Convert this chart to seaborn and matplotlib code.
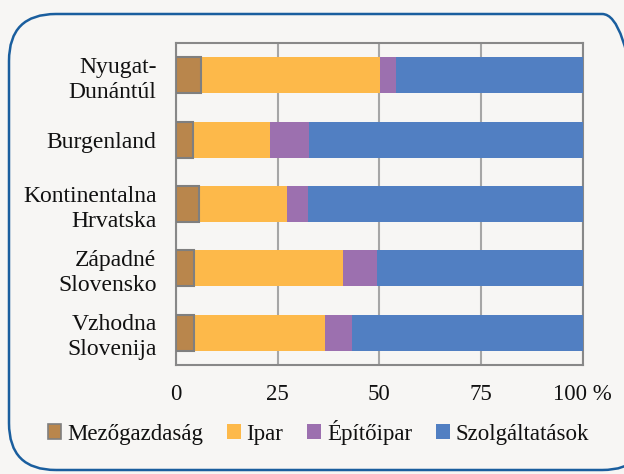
import matplotlib
matplotlib.use("Agg")
import matplotlib.pyplot as plt
from matplotlib.patches import FancyBboxPatch, Patch
import seaborn as sns
import pandas as pd
import numpy as np

regions = ["Nyugat-\nDunántúl", "Burgenland", "Kontinentalna\nHrvatska",
           "Západné\nSlovensko", "Vzhodna\nSlovenija"]
sectors = ["Mezőgazdaság", "Ipar", "Építőipar", "Szolgáltatások"]
mezogazdasag = [6.2, 4.3, 5.7, 4.4, 4.4]
ipar = [43.9, 18.9, 21.5, 36.6, 32.3]
epitoipar = [4.1, 9.5, 5.2, 8.4, 6.6]
szolgaltatasok = [45.8, 67.3, 67.6, 50.6, 56.7]
xticks = [0, 25, 50, 75, 100]
xticklabels = ["0", "25", "50", "75", "100 %"]

colors = ["#B9864C", "#FDB94A", "#9C70AF", "#517FC2"]
bg = "#F7F6F4"

df = pd.DataFrame({"region": regions, "Mezőgazdaság": mezogazdasag,
                   "Ipar": ipar, "Építőipar": epitoipar,
                   "Szolgáltatások": szolgaltatasok})
# cumulative sums so the bars can be layered to look stacked
cum = df[sectors].cumsum(axis=1)

sns.set_style("white")
plt.rcParams["font.family"] = ["Liberation Serif", "DejaVu Serif"]
plt.rcParams["text.color"] = "#111111"
plt.rcParams["xtick.color"] = "#111111"
plt.rcParams["ytick.color"] = "#111111"

fig = plt.figure(figsize=(6.24, 4.74), dpi=100, facecolor=bg)
ax = fig.add_axes([0.282, 0.2306, 0.652, 0.678])
ax.set_facecolor(bg)

for i in reversed(range(len(sectors))):
    s = sectors[i]
    plot_df = pd.DataFrame({"region": regions, "value": cum[s]})
    edge = "#7F7F7F" if i == 0 else "none"
    lw = 1.5 if i == 0 else 0
    sns.barplot(data=plot_df, y="region", x="value", orient="h", color=colors[i],
                width=0.56, edgecolor=edge, linewidth=lw, saturation=1, ax=ax, zorder=3)

ax.set_xlim(0, 100)
ax.set_ylim(4.5, -0.5)
ax.set_xticks(xticks)
ax.set_xticklabels(xticklabels, fontsize=16.5)
ax.set_yticks(np.arange(-0.5, 5, 1.0), minor=True)
ax.set_yticks(range(len(regions)))
ax.set_yticklabels(regions, fontsize=17, linespacing=1.25)
ax.tick_params(axis="y", which="major", length=0, pad=14)
ax.tick_params(axis="y", which="minor", length=6, width=1.3, color="#888888")
ax.tick_params(axis="x", which="major", length=7, width=1.3, color="#888888", pad=7)
ax.set_xlabel("")
ax.set_ylabel("")
ax.grid(axis="x", color="#A6A6A6", linewidth=1.5, zorder=0)
ax.set_axisbelow(True)
for sp in ax.spines.values():
    sp.set_visible(True)
    sp.set_color("#888888")
    sp.set_linewidth(1.5)

handles = [Patch(facecolor=colors[0], edgecolor="#7F7F7F", linewidth=1.2)] + \
          [Patch(facecolor=c, edgecolor="none") for c in colors[1:]]
fig.legend(handles, sectors, loc="center", bbox_to_anchor=(0.51, 0.088), ncol=4,
           frameon=False, fontsize=16.5, handlelength=0.6, handleheight=0.6,
           handletextpad=0.25, columnspacing=1.05)

border = FancyBboxPatch((9 / 624, 4 / 474), 640 / 624, 456 / 474,
                        boxstyle="round,pad=0,rounding_size=0.075",
                        transform=fig.transFigure, facecolor="none",
                        edgecolor="#1A5E9E", linewidth=1.8, mutation_aspect=624 / 474)
fig.patches.append(border)

fig.savefig("out.png", dpi=100, facecolor=bg)
